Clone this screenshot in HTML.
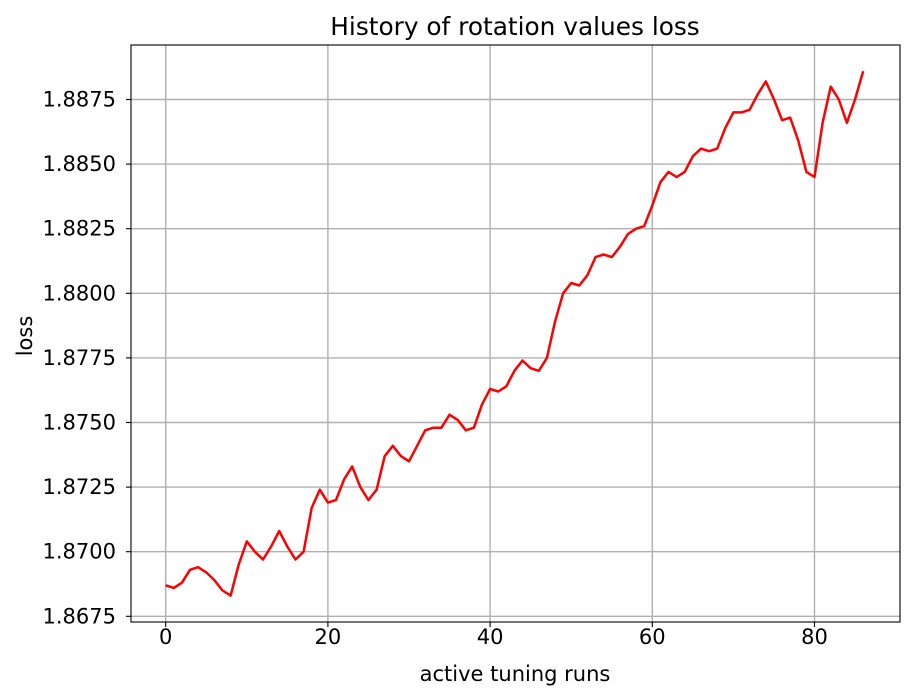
<!DOCTYPE html>
<html><head><meta charset="utf-8"><style>
body{margin:0;background:#fff;}
svg{display:block;font-family:"DejaVu Sans","Liberation Sans",sans-serif;}
</style></head><body>
<svg id="chart" width="913" height="700">
<text x="515" y="35" font-size="24.8" text-anchor="middle">History of rotation values loss</text>
<g id="grid"></g>
<g id="ticks"></g>
<path id="line" fill="none" stroke="#ff0000" stroke-width="2.5" stroke-linejoin="round"></path>
<rect x="131" y="45" width="769" height="577" fill="none" stroke="#000" stroke-width="1.1"></rect>
<text x="515" y="681" font-size="21" text-anchor="middle">active tuning runs</text>
<text transform="translate(32,336) rotate(-90)" font-size="21" text-anchor="middle">loss</text>
</svg>
<script>
const xTicks=[0,20,40,60,80];
const yTicks=[1.8675,1.8700,1.8725,1.8750,1.8775,1.8800,1.8825,1.8850,1.8875];
const lossValues=[1.8687,1.8686,1.8688,1.8693,1.8694,1.8692,1.8689,1.8685,1.8683,1.8695,1.8704,1.8700,1.8697,1.8702,1.8708,1.8702,1.8697,1.8700,1.8717,1.8724,1.8719,1.8720,1.8728,1.8733,1.8725,1.8720,1.8724,1.8737,1.8741,1.8737,1.8735,1.8741,1.8747,1.8748,1.8748,1.8753,1.8751,1.8747,1.8748,1.8757,1.8763,1.8762,1.8764,1.8770,1.8774,1.8771,1.8770,1.8775,1.8789,1.8800,1.8804,1.8803,1.8807,1.8814,1.8815,1.8814,1.8818,1.8823,1.8825,1.8826,1.8834,1.8843,1.8847,1.8845,1.8847,1.8853,1.8856,1.8855,1.8856,1.8864,1.8870,1.8870,1.8871,1.8877,1.8882,1.8875,1.8867,1.8868,1.8859,1.8847,1.8845,1.8866,1.8880,1.8875,1.8866,1.8875,1.8886];
function xs(v){return 165.7+v*8.11;}
function ys(v){return 551.7-(v-1.87)/0.0025*64.6;}
const NS="http://www.w3.org/2000/svg";
const grid=document.getElementById('grid'),ticks=document.getElementById('ticks');
function mk(tag,attrs,parent){const e=document.createElementNS(NS,tag);for(const k in attrs)e.setAttribute(k,attrs[k]);parent.appendChild(e);return e;}
xTicks.forEach(t=>{
  const x=xs(t);
  const g=mk('line',{x1:x,x2:x,y1:45,y2:622,stroke:'#b0b0b0','stroke-width':1.4},grid);
  
  
  const tk=mk('line',{x1:x,x2:x,y1:622,y2:627,stroke:'#000','stroke-width':1.1},ticks);
  
  
  const tx=mk('text',{x:x,y:644,'font-size':21,'text-anchor':'middle'},ticks);
  tx.textContent=t;
  
  
});
yTicks.forEach(t=>{
  const y=ys(t);
  const g=mk('line',{x1:131,x2:900,y1:y,y2:y,stroke:'#b0b0b0','stroke-width':1.4},grid);
  
  
  const tk=mk('line',{x1:126,x2:131,y1:y,y2:y,stroke:'#000','stroke-width':1.1},ticks);
  
  
  const tx=mk('text',{x:116,y:y+7,'font-size':21,'text-anchor':'end'},ticks);
  tx.textContent=t.toFixed(4);
  
  
});
document.getElementById('line').setAttribute('d',lossValues.map((v,i)=>(i?'L':'M')+xs(i).toFixed(1)+','+ys(v).toFixed(1)).join(''));
</script>
</body></html>
